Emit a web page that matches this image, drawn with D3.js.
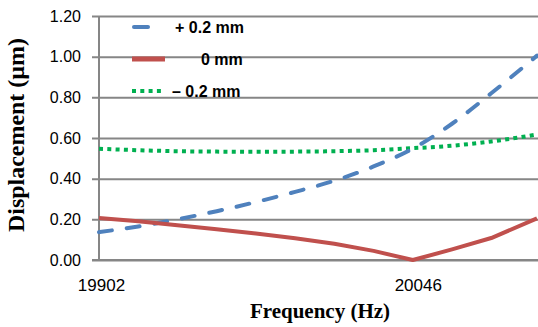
<html>
<meta charset="utf-8" />
<head>
<title>Displacement vs Frequency</title>
<script src="https://cdn.jsdelivr.net/npm/d3@7/dist/d3.min.js"></script>
<style>
	body { margin: 0; background: #fff; }
	svg { display: block; }
</style>
</head>
<body>
<svg width="538" height="327"></svg>
<script>
// frequencies (Hz) sampled along the category axis
const freqs = [19902, 19920, 19938, 19956, 19974, 19992, 20010, 20028, 20046, 20064, 20082, 20103];
// displacement values (um)
const plus02 = [0.137, 0.165, 0.200, 0.240, 0.285, 0.335, 0.390, 0.460, 0.548, 0.670, 0.820, 1.005];
const zero0 = [0.207, 0.190, 0.171, 0.151, 0.130, 0.107, 0.080, 0.045, 0.000, 0.052, 0.108, 0.205];
const minus02 = [0.547, 0.540, 0.535, 0.533, 0.532, 0.533, 0.535, 0.540, 0.550, 0.562, 0.583, 0.617];
const seriesNames = ['+ 0.2 mm', '0 mm', '\u2013 0.2 mm'];
const yTicks = [0, 0.2, 0.4, 0.6, 0.8, 1.0, 1.2];
const xTicks = [19902, 20046];

const svg = d3.select('svg');
const plotL = 99, plotR = 537, plotT = 16, plotB = 260;

const x = d3.scaleLinear().domain([19902, 20103]).range([plotL, plotR]);
const y = d3.scaleLinear().domain([0, 1.2]).range([plotB, plotT]);

// gridlines + y axis labels
const yAxis = d3.axisLeft(y).tickValues(yTicks).tickFormat(d3.format('.2f'))
	.tickSize(-(538 - plotL)).tickPadding(18);
const gy = svg.append('g').attr('transform', `translate(${plotL},0)`).call(yAxis);
gy.select('.domain').remove();
gy.selectAll('.tick line').attr('x1', -7).attr('stroke', '#868686').attr('stroke-width', 2);
gy.selectAll('.tick text').attr('fill', '#000').style('font', '16px "Liberation Sans", Arial, sans-serif');

// axis lines
svg.append('line').attr('x1', plotL).attr('x2', plotL).attr('y1', plotT).attr('y2', plotB)
	.attr('stroke', '#868686').attr('stroke-width', 2);

// x axis labels (category labels sit a little right of their point)
const xAxis = d3.axisBottom(x).tickValues(xTicks).tickFormat(d3.format('d')).tickSize(0).tickPadding(19);
const gx = svg.append('g').attr('transform', `translate(0,${plotB})`).call(xAxis);
gx.select('.domain').remove();
gx.selectAll('.tick text').attr('fill', '#000').attr('dx', (d, i) => i === 0 ? 2 : 5)
	.style('font', '17px "Liberation Sans", Arial, sans-serif');
svg.append('line').attr('x1', 92).attr('x2', 538).attr('y1', plotB).attr('y2', plotB)
	.attr('stroke', '#868686').attr('stroke-width', 2);

// series
const styles = [
	{ color: '#4F81BD', dash: '13,15', cap: 'round', width: 4, curve: d3.curveMonotoneX },
	{ color: '#C0504D', dash: null, cap: 'butt', width: 4, curve: d3.curveLinear },
	{ color: '#00B050', dash: '4,4.3', cap: 'butt', width: 4, curve: d3.curveMonotoneX }
];
const allSeries = [plus02, zero0, minus02];

// draw green first, then blue, red on top
[2, 0, 1].forEach(i => {
	const s = styles[i];
	const line = d3.line().x(d => x(d[0])).y(d => y(d[1])).curve(s.curve);
	svg.append('path')
		.datum(freqs.map((f, j) => [f, allSeries[i][j]]))
		.attr('d', line)
		.attr('fill', 'none')
		.attr('stroke', s.color)
		.attr('stroke-width', s.width)
		.attr('stroke-linecap', s.cap)
		.attr('stroke-linejoin', 'round')
		.attr('stroke-dasharray', s.dash);
});

// legend
const legendRows = [
	{ y: 27, x1: 134, x2: 148, textX: 175 },
	{ y: 59, x1: 132, x2: 165, textX: 201 },
	{ y: 91, x1: 132, x2: 164, textX: 172 }
];
legendRows.forEach((r, i) => {
	const s = styles[i];
	svg.append('line').attr('x1', r.x1).attr('x2', r.x2).attr('y1', r.y).attr('y2', r.y)
		.attr('stroke', s.color).attr('stroke-width', i === 1 ? 5 : 4)
		.attr('stroke-linecap', s.cap)
		.attr('stroke-dasharray', i === 2 ? '4,4.3' : null);
	svg.append('text').attr('x', r.textX).attr('y', r.y + 6)
		.style('font', 'bold 16px "Liberation Sans", Arial, sans-serif')
		.text(seriesNames[i]);
});

// axis titles
svg.append('text').attr('x', 320).attr('y', 318).attr('text-anchor', 'middle')
	.style('font', 'bold 21px "Liberation Serif", "Times New Roman", serif')
	.text('Frequency (Hz)');
svg.append('text').attr('transform', 'translate(24,135) rotate(-90)').attr('text-anchor', 'middle')
	.attr('textLength', 194).attr('lengthAdjust', 'spacingAndGlyphs')
	.style('font', 'bold 23px "Liberation Serif", "Times New Roman", serif')
	.text('Displacement (\u00b5m)');
</script>
</body>
</html>
